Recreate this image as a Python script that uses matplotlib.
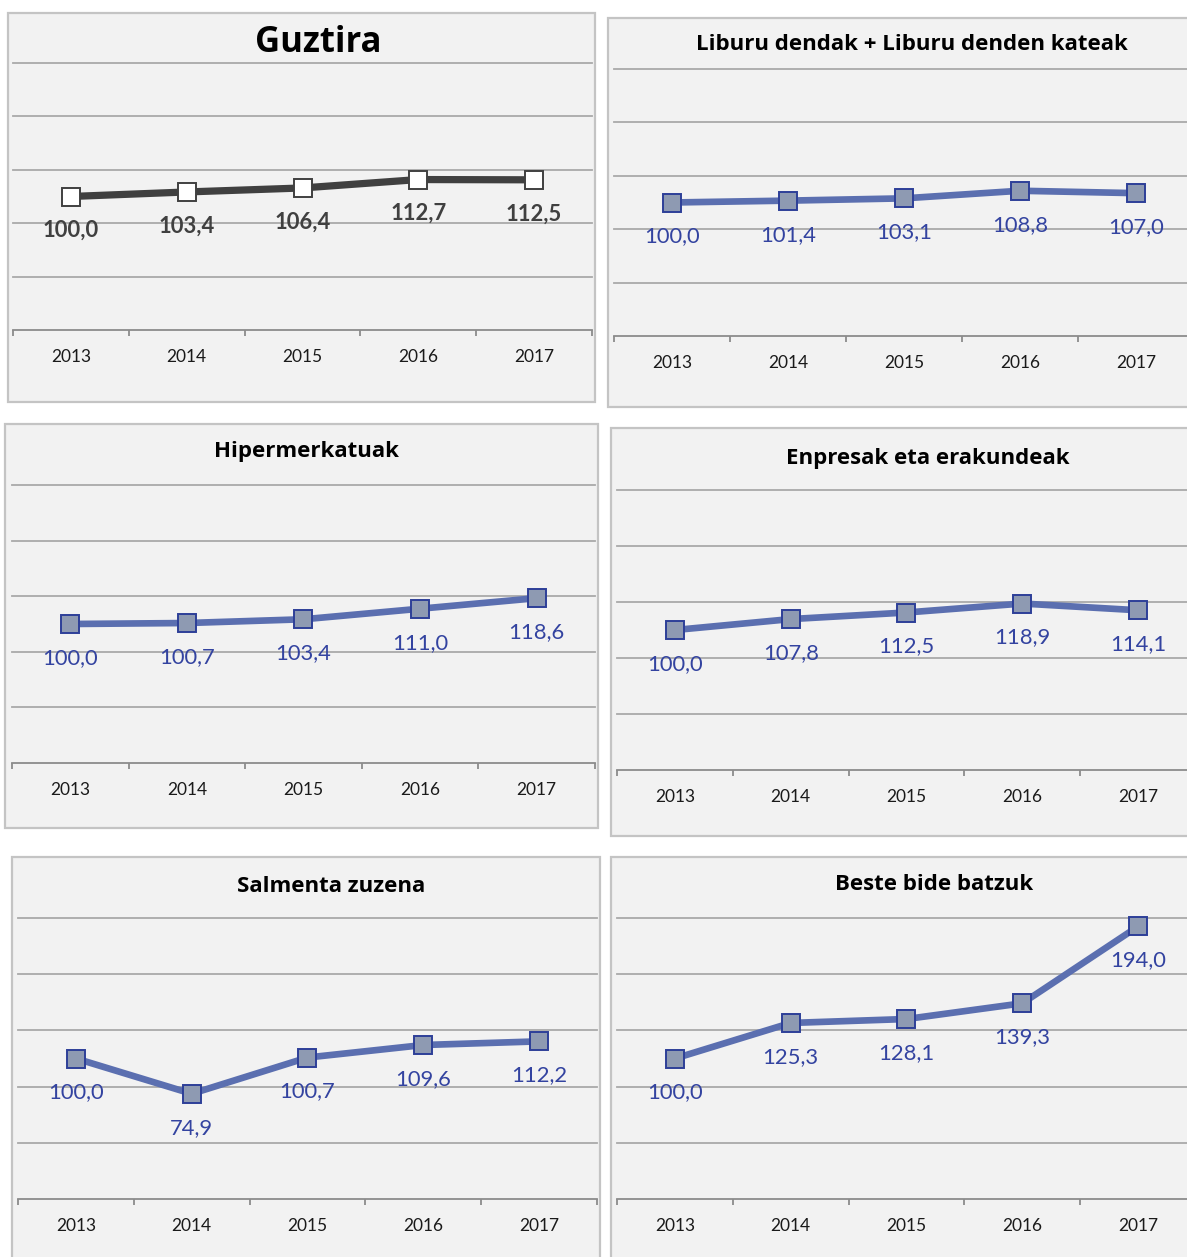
import matplotlib
matplotlib.use("Agg")
import matplotlib.pyplot as plt
from matplotlib.patches import Rectangle

W, H = 1187, 1257
DPI = 100

years = ["2013", "2014", "2015", "2016", "2017"]
titles = ["Guztira", "Liburu dendak + Liburu denden kateak", "Hipermerkatuak",
          "Enpresak eta erakundeak", "Salmenta zuzena", "Beste bide batzuk"]
guztira = [100.0, 103.4, 106.4, 112.7, 112.5]
liburu = [100.0, 101.4, 103.1, 108.8, 107.0]
hiper = [100.0, 100.7, 103.4, 111.0, 118.6]
enpresak = [100.0, 107.8, 112.5, 118.9, 114.1]
salmenta = [100.0, 74.9, 100.7, 109.6, 112.2]
beste = [100.0, 125.3, 128.1, 139.3, 194.0]
series = [guztira, liburu, hiper, enpresak, salmenta, beste]
yticks = [0, 40, 80, 120, 160, 200]

# layout in pixels: box (x0,y0,x1,y1), plot (x0, y_top, x1, y_bottom), title (cx, cy)
boxes = [(8, 13, 595, 402), (608, 18, 1200, 407), (5, 424, 598, 828),
         (611, 428, 1200, 836), (12, 857, 600, 1270), (611, 857, 1200, 1270)]
plots = [(13, 63, 592, 330), (614, 69, 1194, 336), (12, 485, 595, 763),
         (617, 490, 1196, 770), (18, 918, 597, 1199), (617, 918, 1196, 1199)]
tpos = [(318, 43), (912, 44), (307, 451), (928, 459), (331, 886), (934, 884)]
tsize = [25, 16, 16, 16, 16, 16]

FONT = "Lato"
TFONT = "Open Sans"
fig = plt.figure(figsize=(W / DPI, H / DPI), dpi=DPI)
fig.patch.set_facecolor("white")

BLUE_LINE = "#5b6fb0"
BLUE_EDGE = "#2d3f98"
BLUE_FILL = "#8e9ab2"
BLUE_TEXT = "#3343a0"
DARK = "#404040"
GRID = "#a9a9a9"

for i in range(6):
    bx0, by0, bx1, by1 = boxes[i]
    fig.patches.append(Rectangle((bx0 / W, 1 - by1 / H), (bx1 - bx0) / W, (by1 - by0) / H,
                                 transform=fig.transFigure, facecolor="#f2f2f2",
                                 edgecolor="#c4c4c4", linewidth=1.6, zorder=-5))
    px0, pt, px1, pb = plots[i]
    ax = fig.add_axes([px0 / W, 1 - pb / H, (px1 - px0) / W, (pb - pt) / H])
    ax.set_zorder(2)
    ax.set_facecolor("none")
    ax.set_xlim(-0.5, len(years) - 0.5)
    ax.set_ylim(yticks[0], yticks[-1])
    for v in yticks[1:]:
        ax.axhline(v, color=GRID, linewidth=1.3, clip_on=False, zorder=1)
    for s in ["top", "left", "right"]:
        ax.spines[s].set_visible(False)
    ax.spines["bottom"].set_color("#8c8c8c")
    ax.spines["bottom"].set_linewidth(1.3)
    ax.set_yticks([])
    x = list(range(len(years)))
    ax.set_xticks(x)
    ax.set_xticklabels(years, fontfamily=FONT, fontsize=12.5, color="#1a1a1a")
    ax.tick_params(axis="x", which="major", length=0, pad=14)
    ax.set_xticks([k - 0.5 for k in range(len(years) + 1)], minor=True)
    ax.tick_params(axis="x", which="minor", length=4, width=1.3, color="#8c8c8c", direction="out")

    vals = series[i]
    if i == 0:
        ax.plot(x, vals, color=DARK, linewidth=5.2, marker="s", markersize=13,
                markerfacecolor="white", markeredgecolor=DARK, markeredgewidth=1.4,
                zorder=3, clip_on=False)
        tcol, tw = DARK, "bold"
    else:
        ax.plot(x, vals, color=BLUE_LINE, linewidth=4.8, marker="s", markersize=13,
                markerfacecolor=BLUE_FILL, markeredgecolor=BLUE_EDGE, markeredgewidth=1.4,
                zorder=3, clip_on=False)
        tcol, tw = BLUE_TEXT, "normal"
    for xi, v in zip(x, vals):
        ax.annotate(f"{v:.1f}".replace(".", ","), (xi, v), xytext=(0, -24.5),
                    textcoords="offset points", ha="center", va="center",
                    fontfamily=FONT, fontsize=15.8, color=tcol, fontweight=tw, zorder=4)
    cx, cy = tpos[i]
    fig.text(cx / W, 1 - cy / H, titles[i], ha="center", va="center",
             fontfamily=TFONT, fontsize=tsize[i], fontweight="bold", color="black")

fig.savefig("out.png", dpi=DPI, facecolor="white")
